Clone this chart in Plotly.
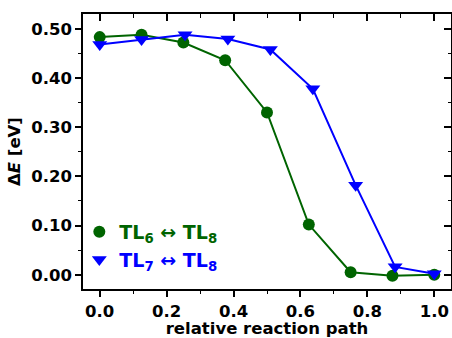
import plotly.graph_objects as go

# data
x_tl6 = [0.0, 0.125, 0.25, 0.375, 0.5, 0.625, 0.75, 0.875, 1.0]
y_tl6 = [0.483, 0.488, 0.472, 0.436, 0.330, 0.102, 0.005, -0.002, 0.0]
x_tl7 = [0.0, 0.125, 0.255, 0.383, 0.51, 0.637, 0.765, 0.883, 1.0]
y_tl7 = [0.468, 0.478, 0.488, 0.479, 0.458, 0.378, 0.182, 0.016, 0.002]
name_tl6 = "TL<sub>6</sub> ↔ TL<sub>8</sub>"
name_tl7 = "TL<sub>7</sub> ↔ TL<sub>8</sub>"
green = "#006400"
blue = "#0000ff"

FONT = "DejaVu Sans"

fig = go.Figure()
fig.add_trace(go.Scatter(x=x_tl6, y=y_tl6, mode="lines+markers", showlegend=False,
                         line=dict(color=green, width=2),
                         marker=dict(symbol="circle", size=12, color=green)))
fig.add_trace(go.Scatter(x=x_tl7, y=y_tl7, mode="lines+markers", showlegend=False,
                         line=dict(color=blue, width=2),
                         marker=dict(symbol="triangle-down", size=13, color=blue)))
# legend entries (marker only)
fig.add_trace(go.Scatter(x=[None], y=[None], mode="markers",
                         name=f"<span style='color:{green}'>{name_tl6}</span>",
                         marker=dict(symbol="circle", size=12, color=green)))
fig.add_trace(go.Scatter(x=[None], y=[None], mode="markers",
                         name=f"<span style='color:{blue}'>{name_tl7}</span>",
                         marker=dict(symbol="triangle-down", size=13, color=blue)))

xr = [-0.05, 1.05]
yr = [-0.029, 0.53]
axfont = dict(family=FONT, size=16.5, color="black", weight="bold")

fig.update_layout(
    width=452, height=338,
    margin=dict(l=83, r=1, t=14, b=49, autoexpand=False),
    paper_bgcolor="white", plot_bgcolor="white",
    font=dict(family=FONT, size=16.5, color="black", weight="bold"),
    showlegend=True,
    legend=dict(x=-0.01, y=0.277, xanchor="left", yanchor="top",
                bgcolor="rgba(0,0,0,0)", itemwidth=30,
                font=dict(family=FONT, size=19, weight="bold")),
    xaxis=dict(range=xr, tickmode="linear", tick0=0, dtick=0.2, tickformat=".1f", automargin=False,
               ticks="outside", ticklen=6, tickwidth=1.5, tickcolor="black",
               minor=dict(ticks="outside", ticklen=3.5, tickwidth=1.2, dtick=0.1, tick0=0, tickcolor="black"),
               showgrid=False, zeroline=False, showline=True, linecolor="black", linewidth=1.5,
               mirror=True, tickfont=axfont,
               title=dict(text="relative reaction path", font=axfont, standoff=2)),
    yaxis=dict(range=yr, tickmode="linear", tick0=0, dtick=0.1, tickformat=".2f", automargin=False,
               ticks="outside", ticklen=6, tickwidth=1.5, tickcolor="black",
               minor=dict(ticks="outside", ticklen=3.5, tickwidth=1.2, dtick=0.05, tick0=0, tickcolor="black"),
               showgrid=False, zeroline=False, showline=True, linecolor="black", linewidth=1.5,
               mirror=True, tickfont=axfont,
               title=dict(text="Δ<i>E</i> [eV]", font=axfont, standoff=6)),
    xaxis2=dict(range=xr, overlaying="x", side="top", anchor="y", tickmode="linear", tick0=0, dtick=0.2,
                ticks="inside", ticklen=7, tickwidth=1.5, tickcolor="black", showticklabels=False,
                automargin=False,
                minor=dict(ticks="inside", ticklen=3.5, tickwidth=1.2, dtick=0.1, tick0=0, tickcolor="black"),
                showgrid=False, zeroline=False, showline=False),
    yaxis2=dict(range=yr, overlaying="y", side="right", anchor="x", tickmode="linear", tick0=0, dtick=0.1,
                ticks="inside", ticklen=7, tickwidth=1.5, tickcolor="black", showticklabels=False,
                automargin=False,
                minor=dict(ticks="inside", ticklen=3.5, tickwidth=1.2, dtick=0.05, tick0=0, tickcolor="black"),
                showgrid=False, zeroline=False, showline=False),
)
# invisible trace to activate mirrored axes
fig.add_trace(go.Scatter(x=[None], y=[None], xaxis="x2", yaxis="y2", showlegend=False, hoverinfo="skip"))

fig.write_html("out.html", config={"displayModeBar": False},
               post_script="document.body.style.margin='0';")
